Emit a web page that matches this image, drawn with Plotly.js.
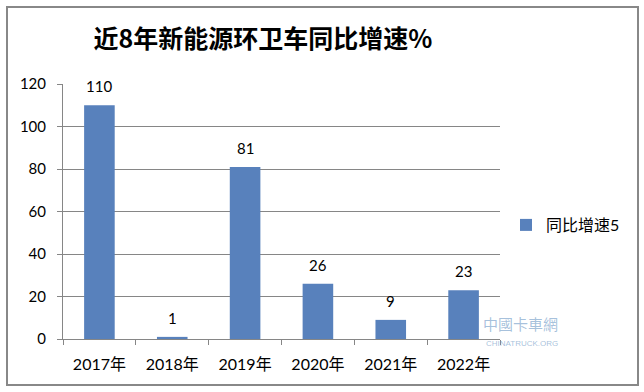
<!DOCTYPE html>
<html>
<head>
<meta charset="utf-8">
<script src="https://cdn.plot.ly/plotly-3.0.1.min.js"></script>
<style>html,body{margin:0;padding:0;background:#fff;}#chart{width:644px;height:392px;}</style>
</head>
<body>
<div id="chart"></div>
<script>
const categories = ["2017年", "2018年", "2019年", "2020年", "2021年", "2022年"];
const growthValues = [110, 1, 81, 26, 9, 23];
const seriesName = "同比增速5";
const yTicks = [0, 20, 40, 60, 80, 100, 120];
const chartTitle = "近8年新能源环卫车同比增速%";

const FONT = "Lato, 'Noto Sans CJK SC', sans-serif";
const L = 63, R = 144, T = 84, B = 53, W = 644, H = 392;
const pw = W - L - R, ph = H - T - B;
const px = x => (x - L) / pw;
const py = y => (H - B - y) / ph;

const trace = {
  type: "bar",
  x: categories,
  y: growthValues,
  name: seriesName,
  marker: {color: "#5881bc"},
  hoverinfo: "none"
};

const labelAnns = categories.map((c, i) => ({
  x: c, y: growthValues[i], xref: "x", yref: "y",
  text: String(growthValues[i]), showarrow: false,
  yanchor: "middle", yshift: 19,
  font: {family: FONT, size: 15, color: "#000"}
}));

const layout = {
  width: W, height: H,
  margin: {l: L, r: R, t: T, b: B},
  paper_bgcolor: "#fff", plot_bgcolor: "#fff",
  bargap: 0.58,
  showlegend: true,
  title: {
    text: "<b>" + chartTitle + "</b>",
    x: 263 / W, xanchor: "center",
    y: 1 - 39 / H, yanchor: "middle",
    font: {family: "'Noto Sans CJK SC', sans-serif", size: 25, color: "#000"}
  },
  legend: {
    x: px(506), xanchor: "left", y: py(225), yanchor: "middle",
    font: {family: FONT, size: 16, color: "#000"},
    bgcolor: "rgba(0,0,0,0)", itemwidth: 30
  },
  xaxis: {
    type: "category",
    showline: true, linecolor: "#868686", linewidth: 1,
    ticks: "outside", tickson: "boundaries", ticklen: 5, tickcolor: "#868686",
    showgrid: false, zeroline: false,
    tickfont: {family: FONT, size: 16, color: "#000"},
    ticklabelstandoff: 11
  },
  yaxis: {
    range: [0, 120], tickvals: yTicks,
    showline: true, linecolor: "#868686", linewidth: 1,
    ticks: "outside", ticklen: 5, tickcolor: "#868686",
    showgrid: true, gridcolor: "#868686", gridwidth: 1,
    zeroline: false,
    tickfont: {family: FONT, size: 15, color: "#000"},
    ticklabelstandoff: 8
  },
  shapes: [{
    type: "rect", xref: "paper", yref: "paper",
    x0: px(7), x1: px(638), y0: py(385), y1: py(7),
    line: {color: "#888888", width: 2}, fillcolor: "rgba(0,0,0,0)"
  }],
  annotations: labelAnns.concat([
    {xref: "paper", yref: "paper", x: px(560), y: py(336), text: "中國卡車網", showarrow: false,
     font: {family: "'Noto Sans CJK TC', sans-serif", size: 15, color: "rgba(90,140,190,0.55)"}},
    {xref: "paper", yref: "paper", x: px(560), y: py(350), text: "CHINATRUCK.ORG", showarrow: false,
     font: {family: "'Liberation Sans', sans-serif", size: 8, color: "rgba(90,140,190,0.55)"}}
  ])
};

Plotly.newPlot("chart", [trace], layout, {displayModeBar: false, staticPlot: true});
</script>
</body>
</html>
